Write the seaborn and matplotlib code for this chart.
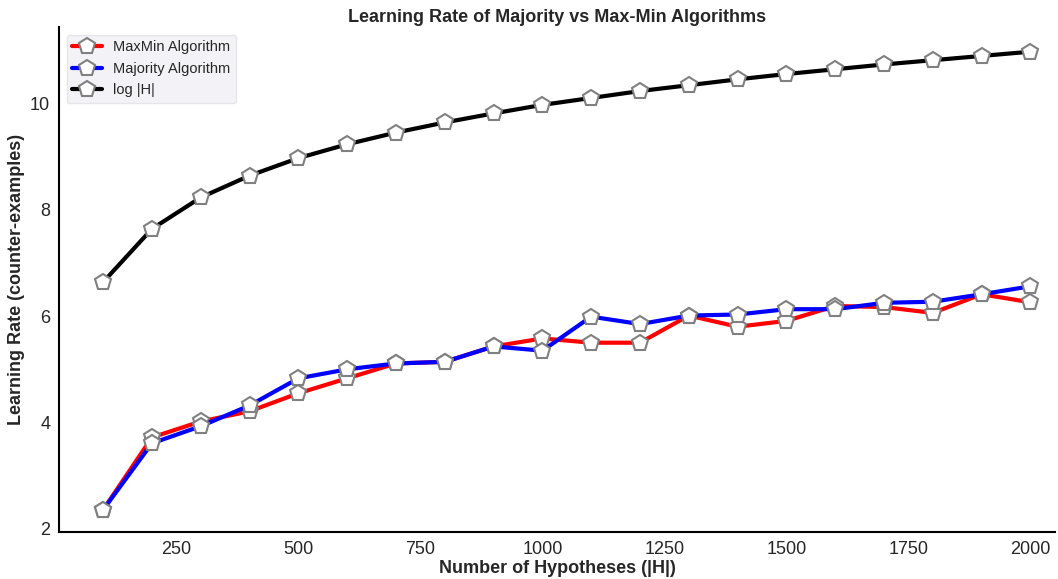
import pandas as pd
import matplotlib
matplotlib.use("Agg")
import matplotlib.pyplot as plt
import seaborn as sns

hypotheses = [100, 200, 300, 400, 500, 600, 700, 800, 900, 1000,
              1100, 1200, 1300, 1400, 1500, 1600, 1700, 1800, 1900, 2000]
maxmin = [2.36, 3.72, 4.02, 4.21, 4.55, 4.83, 5.11, 5.14, 5.43, 5.58,
          5.50, 5.50, 6.01, 5.80, 5.91, 6.19, 6.17, 6.06, 6.41, 6.26]
majority = [2.36, 3.61, 3.93, 4.32, 4.83, 5.00, 5.11, 5.14, 5.43, 5.35,
            5.99, 5.85, 6.01, 6.03, 6.13, 6.13, 6.25, 6.27, 6.41, 6.56]
log_h = [6.64, 7.64, 8.23, 8.64, 8.97, 9.23, 9.45, 9.64, 9.81, 9.97,
         10.10, 10.23, 10.34, 10.45, 10.55, 10.64, 10.73, 10.81, 10.89, 10.97]
series_names = ["MaxMin Algorithm", "Majority Algorithm", "log |H|"]
colors = ["red", "blue", "black"]

df = pd.concat([
    pd.DataFrame({"H": hypotheses, "rate": vals, "series": name})
    for name, vals in zip(series_names, [maxmin, majority, log_h])
])

sns.set_style("white")
plt.rcParams["font.family"] = ["Liberation Sans", "DejaVu Sans"]

fig, ax = plt.subplots(figsize=(10.58, 5.79), dpi=100)
sns.lineplot(data=df, x="H", y="rate", hue="series", hue_order=series_names,
             palette=colors, linewidth=3, marker="p", markersize=12,
             markerfacecolor="white", markeredgecolor="gray",
             markeredgewidth=1.5, ax=ax)

ax.set_xlim(10, 2050)
ax.set_ylim(1.94, 11.43)
ax.set_xticks([250, 500, 750, 1000, 1250, 1500, 1750, 2000])
ax.set_yticks([2, 4, 6, 8, 10])
ax.tick_params(labelsize=13, pad=3)
for side in ["top", "right"]:
    ax.spines[side].set_visible(False)
for side in ["left", "bottom"]:
    ax.spines[side].set_color("black")
    ax.spines[side].set_linewidth(1.5)

ax.set_title("Learning Rate of Majority vs Max-Min Algorithms",
             fontsize=13, fontweight="bold", pad=4)
ax.set_xlabel("Number of Hypotheses (|H|)", fontsize=13, fontweight="bold",
              labelpad=1)
ax.set_ylabel("Learning Rate (counter-examples)", fontsize=13,
              fontweight="bold", labelpad=4)

leg = ax.legend(loc="upper left", fontsize=10.5, frameon=True,
                facecolor="#f0f0f5", edgecolor="#e0e0e6")

fig.subplots_adjust(left=0.056, right=0.997, top=0.953, bottom=0.081)
fig.savefig("out.png")
